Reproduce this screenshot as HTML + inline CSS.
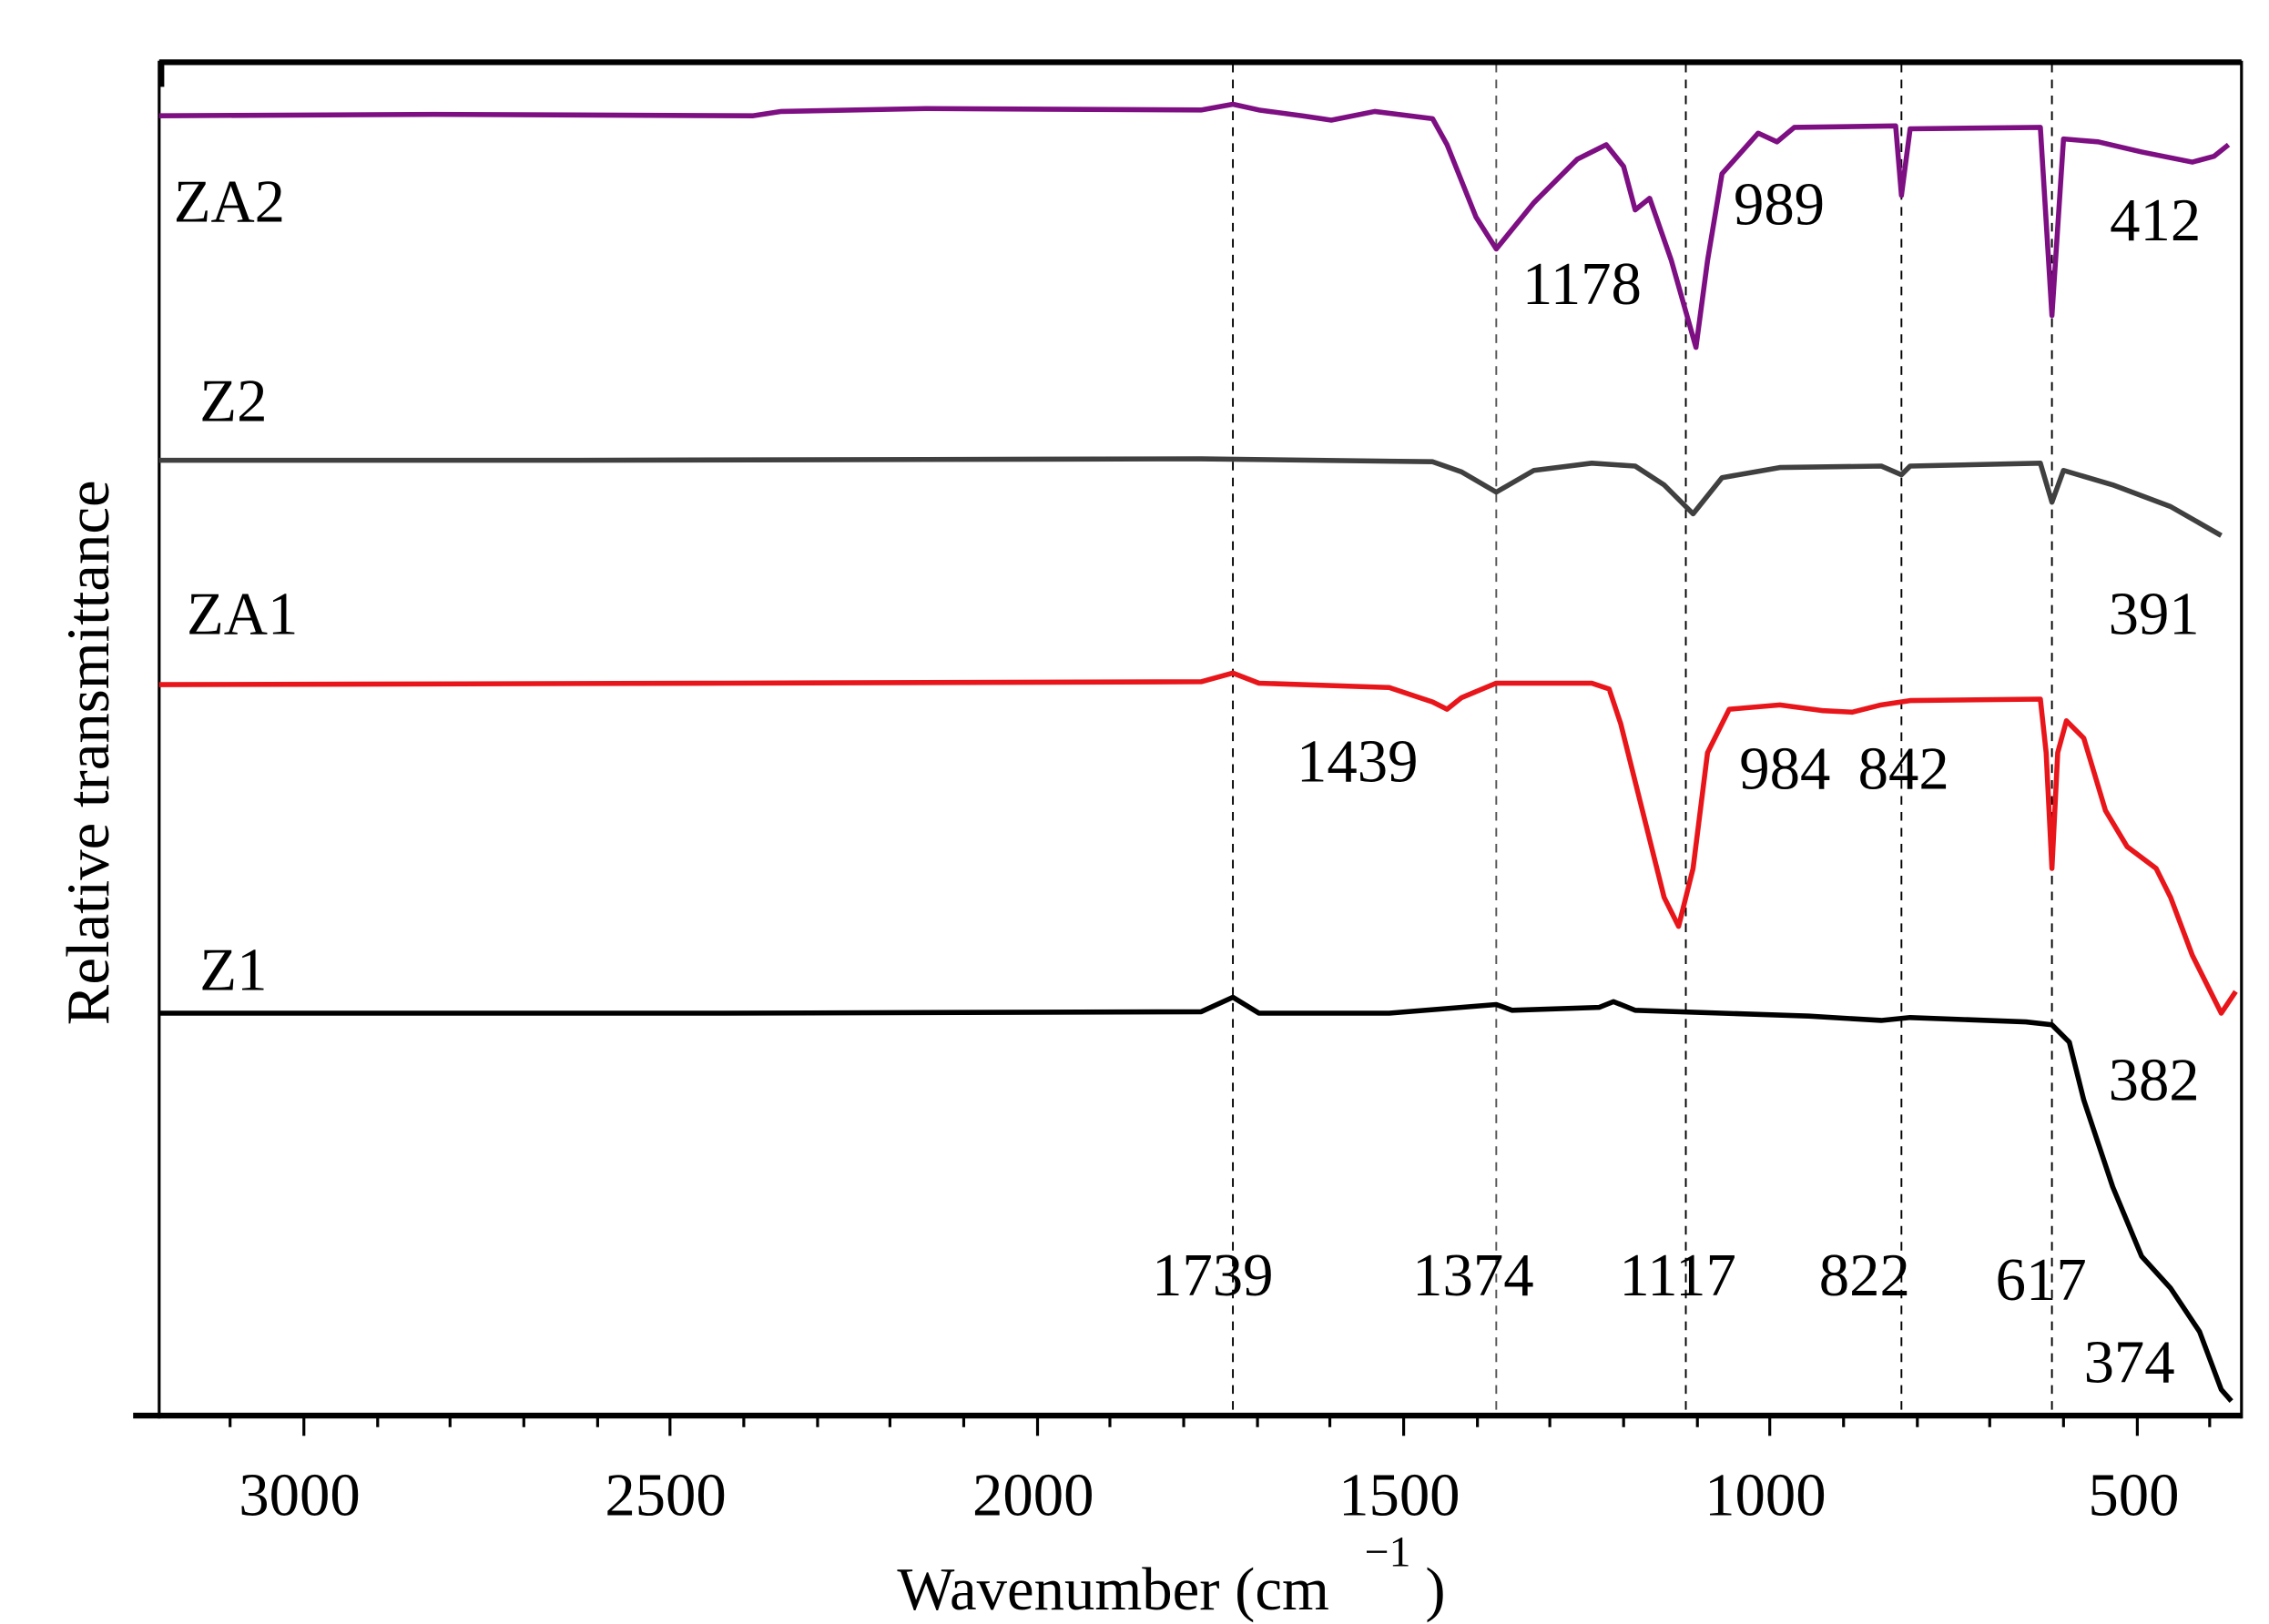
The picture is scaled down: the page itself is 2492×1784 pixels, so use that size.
<!DOCTYPE html>
<html><head><meta charset="utf-8"><style>
html,body{margin:0;padding:0;background:#fff;}
svg{display:block;}
text{font-family:"Liberation Serif",serif;fill:#000;}
</style></head><body>
<svg width="2492" height="1784" viewBox="0 0 1568 1122" preserveAspectRatio="none" xmlns="http://www.w3.org/2000/svg">
<rect width="1568" height="1122" fill="#fff"/>
<!-- dashed lines -->
<g stroke="#000" stroke-width="1.2" stroke-dasharray="6,5">
<line x1="852" y1="44" x2="852" y2="978"/>
<line x1="1034" y1="44" x2="1034" y2="978" stroke="#555"/>
<line x1="1165" y1="44" x2="1165" y2="978"/>
<line x1="1314" y1="44" x2="1314" y2="978"/>
<line x1="1418" y1="44" x2="1418" y2="978"/>
</g>
<!-- frame -->
<line x1="110" y1="43" x2="1549" y2="43" stroke="#000" stroke-width="4"/>
<line x1="110" y1="42" x2="110" y2="980" stroke="#000" stroke-width="2"/>
<line x1="1549" y1="42" x2="1549" y2="980" stroke="#000" stroke-width="2"/>
<line x1="112" y1="42" x2="112" y2="60" stroke="#000" stroke-width="3"/>
<line x1="92" y1="978" x2="1549" y2="978" stroke="#000" stroke-width="4"/>
<g stroke="#000" stroke-width="2">
<line x1="159" y1="978" x2="159" y2="986"/><line x1="210" y1="978" x2="210" y2="992"/>
<line x1="261" y1="978" x2="261" y2="986"/><line x1="311" y1="978" x2="311" y2="986"/>
<line x1="362" y1="978" x2="362" y2="986"/><line x1="413" y1="978" x2="413" y2="986"/>
<line x1="463" y1="978" x2="463" y2="992"/><line x1="514" y1="978" x2="514" y2="986"/>
<line x1="565" y1="978" x2="565" y2="986"/><line x1="615" y1="978" x2="615" y2="986"/>
<line x1="666" y1="978" x2="666" y2="986"/><line x1="717" y1="978" x2="717" y2="992"/>
<line x1="767" y1="978" x2="767" y2="986"/><line x1="818" y1="978" x2="818" y2="986"/>
<line x1="869" y1="978" x2="869" y2="986"/><line x1="919" y1="978" x2="919" y2="986"/>
<line x1="970" y1="978" x2="970" y2="992"/><line x1="1021" y1="978" x2="1021" y2="986"/>
<line x1="1071" y1="978" x2="1071" y2="986"/><line x1="1122" y1="978" x2="1122" y2="986"/>
<line x1="1173" y1="978" x2="1173" y2="986"/><line x1="1223" y1="978" x2="1223" y2="992"/>
<line x1="1274" y1="978" x2="1274" y2="986"/><line x1="1325" y1="978" x2="1325" y2="986"/>
<line x1="1375" y1="978" x2="1375" y2="986"/><line x1="1426" y1="978" x2="1426" y2="986"/>
<line x1="1477" y1="978" x2="1477" y2="992"/><line x1="1527" y1="978" x2="1527" y2="986"/>
</g>
<!-- series -->
<g fill="none" stroke-width="3.5" stroke-linejoin="round">
<polyline stroke="#7d0f83" points="110,80 300,79 520,80 540,77 640,75 830,76 852,72 870,76 900,80 920,83 950,77 990,82 1000,100 1020,150 1034,172 1060,140 1090,110 1110,100 1122,115 1130,145 1140,137 1155,180 1172,240 1180,180 1190,120 1215,92 1228,98 1240,88 1310,87 1314,135 1320,89 1410,88 1418,218 1426,96 1450,98 1480,105 1515,112 1530,108 1540,100"/>
<polyline stroke="#404040" points="110,318 400,318 830,317 990,319 1010,326 1034,340 1060,325 1100,320 1130,322 1150,335 1170,355 1190,330 1230,323 1300,322 1314,328 1320,322 1410,320 1418,347 1426,325 1460,335 1500,350 1535,370"/>
<polyline stroke="#e8161a" points="110,473 500,472 830,471 852,465 870,472 960,475 990,485 1000,490 1010,482 1034,472 1100,472 1112,476 1120,500 1135,560 1150,620 1160,640 1170,600 1180,520 1195,490 1230,487 1260,491 1280,492 1300,487 1320,484 1410,483 1414,520 1418,600 1422,520 1428,498 1440,510 1455,560 1470,585 1490,600 1500,620 1515,660 1535,700 1545,685"/>
<polyline stroke="#000" points="110,700 500,700 830,699 852,689 870,700 960,700 1034,694 1045,698 1105,696 1115,692 1130,698 1250,702 1300,705 1320,703 1400,706 1418,708 1430,720 1440,760 1450,790 1460,820 1480,868 1500,890 1520,920 1535,960 1542,968"/>
</g>
<!-- labels -->
<g font-size="42">
<text x="120" y="153">ZA2</text>
<text x="138" y="291">Z2</text>
<text x="129" y="438">ZA1</text>
<text x="138" y="684">Z1</text>
<text x="1052" y="210">1178</text>
<text x="1198" y="155">989</text>
<text x="1458" y="166">412</text>
<text x="1457" y="438">391</text>
<text x="896" y="540">1439</text>
<text x="1202" y="545">984</text>
<text x="1284" y="545">842</text>
<text x="1457" y="760">382</text>
<text x="796" y="895">1739</text>
<text x="976" y="895">1374</text>
<text x="1119" y="895">1117</text>
<text x="1257" y="895">822</text>
<text x="1379" y="898">617</text>
<text x="1440" y="955">374</text>
<text x="165" y="1047">3000</text>
<text x="418" y="1047">2500</text>
<text x="672" y="1047">2000</text>
<text x="925" y="1047">1500</text>
<text x="1178" y="1047">1000</text>
<text x="1443" y="1047">500</text>
<text x="620" y="1112">Wavenumber (cm</text>
<text x="943" y="1082" font-size="30">−1</text>
<text x="985" y="1112">)</text>
<text transform="translate(75,520) rotate(-90)" text-anchor="middle">Relative transmittance</text>
</g>
</svg>
</body></html>
